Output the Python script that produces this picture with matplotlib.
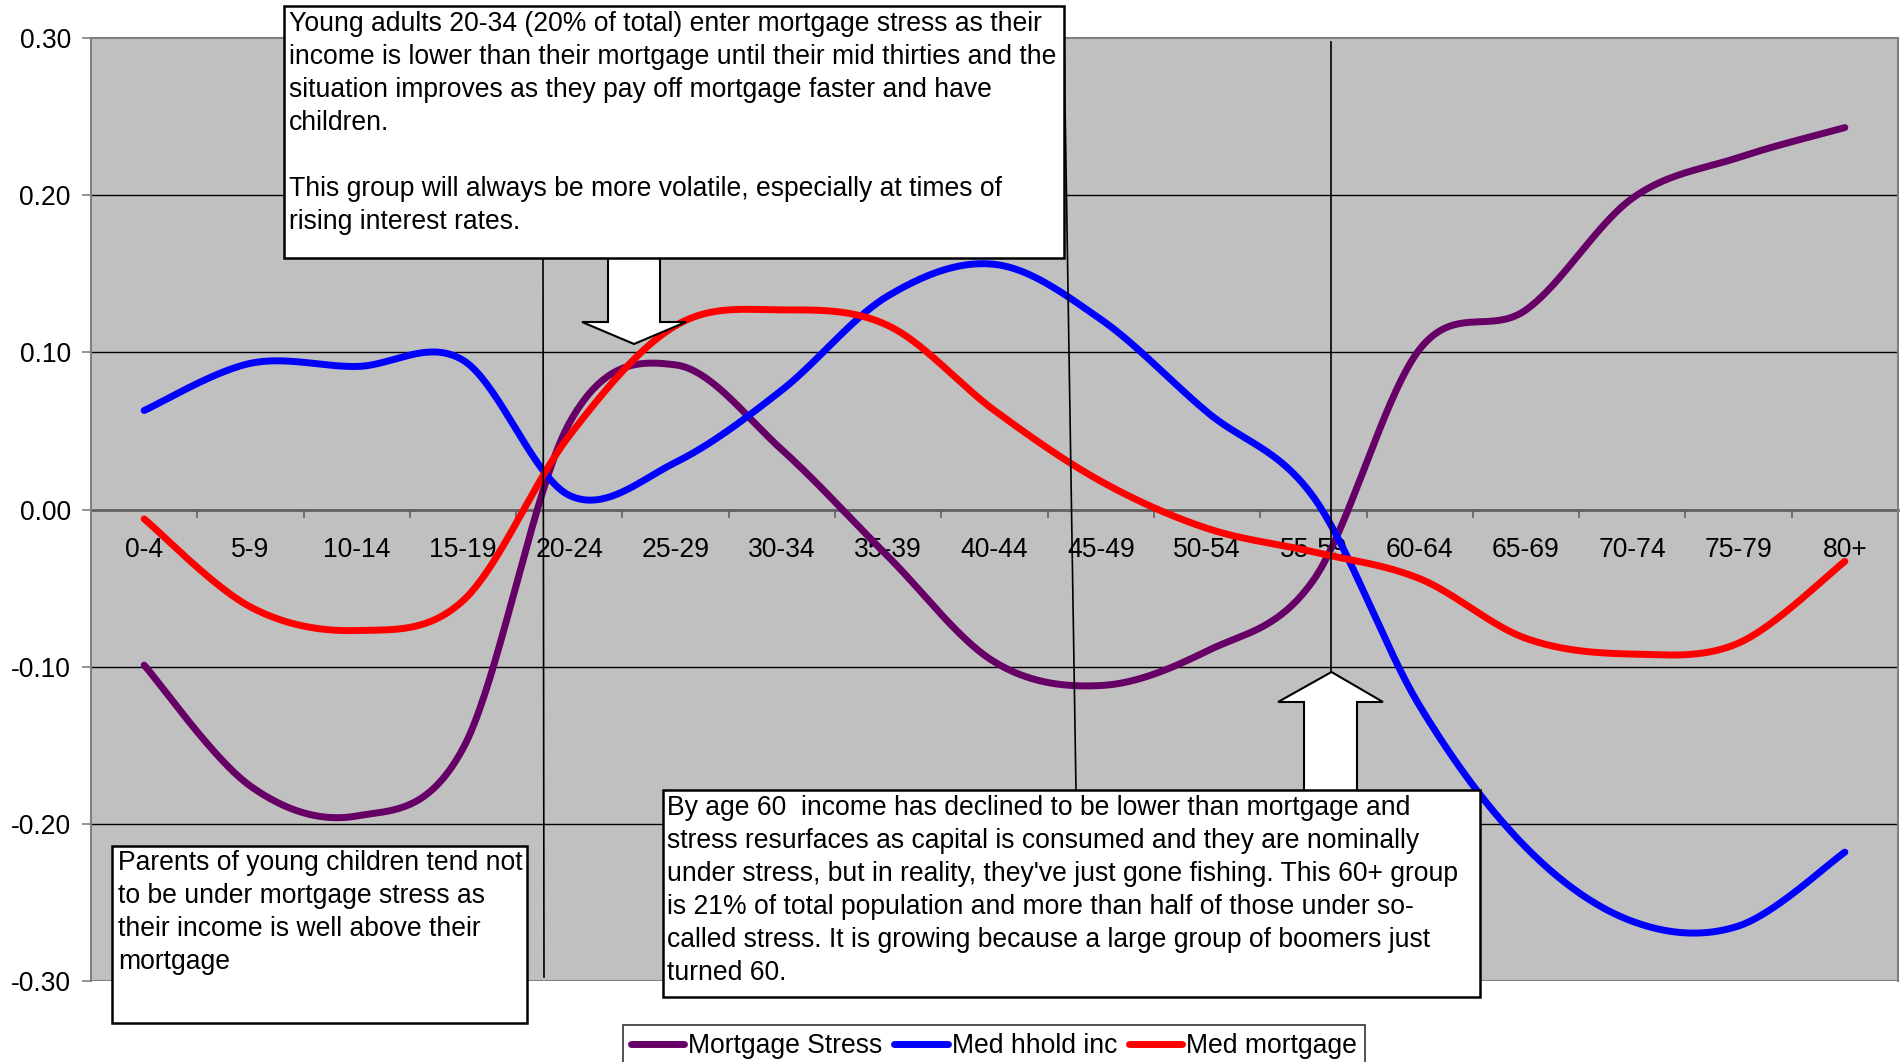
import numpy as np
import matplotlib
matplotlib.use("Agg")
import matplotlib.pyplot as plt
from matplotlib.patches import Rectangle, Polygon
from matplotlib.lines import Line2D
from matplotlib.ticker import FixedLocator, FuncFormatter

# ---- data -------------------------------------------------------------
age_groups = ["0-4", "5-9", "10-14", "15-19", "20-24", "25-29", "30-34",
              "35-39", "40-44", "45-49", "50-54", "55-59", "60-64",
              "65-69", "70-74", "75-79", "80+"]

mortgage_stress = [-0.099, -0.176, -0.195, -0.152, 0.055, 0.092, 0.038,
                   -0.030, -0.097, -0.112, -0.090, -0.045, 0.102, 0.127,
                   0.198, 0.224, 0.243]
med_hhold_inc = [0.063, 0.093, 0.091, 0.095, 0.009, 0.030, 0.076, 0.136,
                 0.156, 0.121, 0.062, 0.008, -0.125, -0.215, -0.262,
                 -0.265, -0.218]
med_mortgage = [-0.006, -0.062, -0.077, -0.058, 0.047, 0.117, 0.127, 0.117,
                0.063, 0.018, -0.012, -0.027, -0.044, -0.082, -0.092,
                -0.085, -0.033]

series_names = ["Mortgage Stress", "Med hhold inc", "Med mortgage"]
series_colors = ["#660066", "#0000FF", "#FF0000"]
y_ticks = [-0.30, -0.20, -0.10, 0.00, 0.10, 0.20, 0.30]

note_young = ["Young adults 20-34 (20% of total) enter mortgage stress as their",
              "income is lower than their mortgage until their mid thirties and the",
              "situation improves as they pay off mortgage faster and have",
              "children.",
              "",
              "This group will always be more volatile, especially at times of",
              "rising interest rates."]
note_parents = ["Parents of young children tend not",
                "to be under mortgage stress as",
                "their income is well above their",
                "mortgage"]
note_sixty = ["By age 60  income has declined to be lower than mortgage and",
              "stress resurfaces as capital is consumed and they are nominally",
              "under stress, but in reality, they've just gone fishing. This 60+ group",
              "is 21% of total population and more than half of those under so-",
              "called stress. It is growing because a large group of boomers just",
              "turned 60."]

# ---- style ------------------------------------------------------------
plt.rcParams["font.family"] = ["Liberation Sans", "DejaVu Sans"]
plt.rcParams["axes.unicode_minus"] = False
FS = 19.1
LW = 5.0

W, H = 1901, 1062
fig = plt.figure(figsize=(W / 100, H / 100), dpi=100)
fig.patch.set_facecolor("white")


def fx(x):
    return x / W


def fy(y):
    return 1 - y / H


ax = fig.add_axes([fx(91), fy(981), fx(1898) - fx(91), fy(38) - fy(981)])
ax.set_facecolor("#C0C0C0")
ax.set_xlim(-0.5, len(age_groups) - 0.5)
ax.set_ylim(-0.30, 0.30)


def smooth(values, steps=40):
    """Catmull-Rom curve through the category points (spreadsheet-style smoothing)."""
    pts = np.column_stack([np.arange(len(values), dtype=float), np.asarray(values, float)])
    ext = np.vstack([pts[0], pts, pts[-1]])
    out = []
    t = np.linspace(0, 1, steps, endpoint=False)[:, None]
    for i in range(1, len(ext) - 2):
        p0, p1, p2, p3 = ext[i - 1], ext[i], ext[i + 1], ext[i + 2]
        m1 = (p2 - p0) / 2
        m2 = (p3 - p1) / 2
        h00 = 2 * t**3 - 3 * t**2 + 1
        h10 = t**3 - 2 * t**2 + t
        h01 = -2 * t**3 + 3 * t**2
        h11 = t**3 - t**2
        out.append(h00 * p1 + h10 * m1 + h01 * p2 + h11 * m2)
    out.append(pts[-1][None, :])
    seg = np.vstack(out)
    return seg[:, 0], seg[:, 1]


# gridlines
for v in y_ticks:
    if v not in (0.0, -0.30, 0.30):
        ax.axhline(v, color="black", lw=1.0, zorder=1)
ax.axhline(-0.30, color="#808080", lw=1.5, zorder=1)

# spines / frame
for side in ("top", "left", "right"):
    ax.spines[side].set_color("#808080")
    ax.spines[side].set_linewidth(1.5)
ax.spines["bottom"].set_position(("data", 0))
ax.spines["bottom"].set_color("#606060")
ax.spines["bottom"].set_linewidth(2.0)
ax.spines["bottom"].set_zorder(1.5)

# category axis crossing at zero
ax.xaxis.set_major_locator(FixedLocator(range(len(age_groups))))
ax.set_xticklabels(age_groups, fontsize=FS)
ax.tick_params(axis="x", which="major", length=0, pad=20)
ax.xaxis.set_minor_locator(FixedLocator(np.arange(0.5, len(age_groups) - 0.5, 1.0)))
ax.tick_params(axis="x", which="minor", length=6, width=1.2, color="#606060", direction="out")

ax.yaxis.set_major_locator(FixedLocator(y_ticks))
ax.yaxis.set_major_formatter(FuncFormatter(lambda v, _: f"{v:.2f}"))
ax.tick_params(axis="y", length=6.5, width=1.2, color="#808080", pad=8, labelsize=FS)

handles = []
for vals, name, col in zip([mortgage_stress, med_hhold_inc, med_mortgage],
                           series_names, series_colors):
    sx, sy = smooth(vals)
    ln, = ax.plot(sx, sy, color=col, lw=LW, solid_capstyle="round",
                  solid_joinstyle="round", label=name, zorder=3)
    handles.append(ln)

# ---- annotation connectors and arrows ----------------------------------
for (x0, y0), (x1, y1) in [((543, 258), (544, 977)),
                           ((1064, 40), (1076, 790)),
                           ((1331, 42), (1331, 672))]:
    fig.add_artist(Line2D([fx(x0), fx(x1)], [fy(y0), fy(y1)],
                          transform=fig.transFigure, color="black", lw=1.2, zorder=5))

down_arrow = [(608, 258), (660, 258), (660, 322), (686, 322), (634, 344),
              (582, 322), (608, 322)]
up_arrow = [(1331.5, 672), (1383, 702), (1357, 702), (1357, 791), (1304, 791),
            (1304, 702), (1278, 702)]
for shape in (down_arrow, up_arrow):
    fig.add_artist(Polygon([(fx(a), fy(b)) for a, b in shape], closed=True,
                           transform=fig.transFigure, facecolor="white",
                           edgecolor="black", lw=1.5, zorder=6))


def note(x0, y0, x1, y1, lines, tx, ty, step=33):
    fig.add_artist(Rectangle((fx(x0), fy(y1)), fx(x1) - fx(x0), fy(y0) - fy(y1),
                             transform=fig.transFigure, facecolor="white",
                             edgecolor="black", lw=1.8, zorder=7))
    for k, line in enumerate(lines):
        if line:
            fig.text(fx(tx), fy(ty + k * step), line, fontsize=FS, ha="left",
                     va="center", color="black", zorder=8)


note(284, 6, 1064, 258, note_young, 289, 24)
note(112, 846, 527, 1023, note_parents, 118, 863)
note(663, 790, 1480, 997, note_sixty, 667, 808)

leg = fig.legend(handles, series_names, loc="upper center",
                 bbox_to_anchor=(fx(994), fy(1025)), ncol=3, frameon=True,
                 fancybox=False, edgecolor="black", fontsize=FS,
                 handlelength=2.0, handletextpad=0.15, columnspacing=0.45,
                 borderpad=0.3, borderaxespad=0)
leg.get_frame().set_linewidth(1.2)

fig.savefig("out.png", dpi=100)
